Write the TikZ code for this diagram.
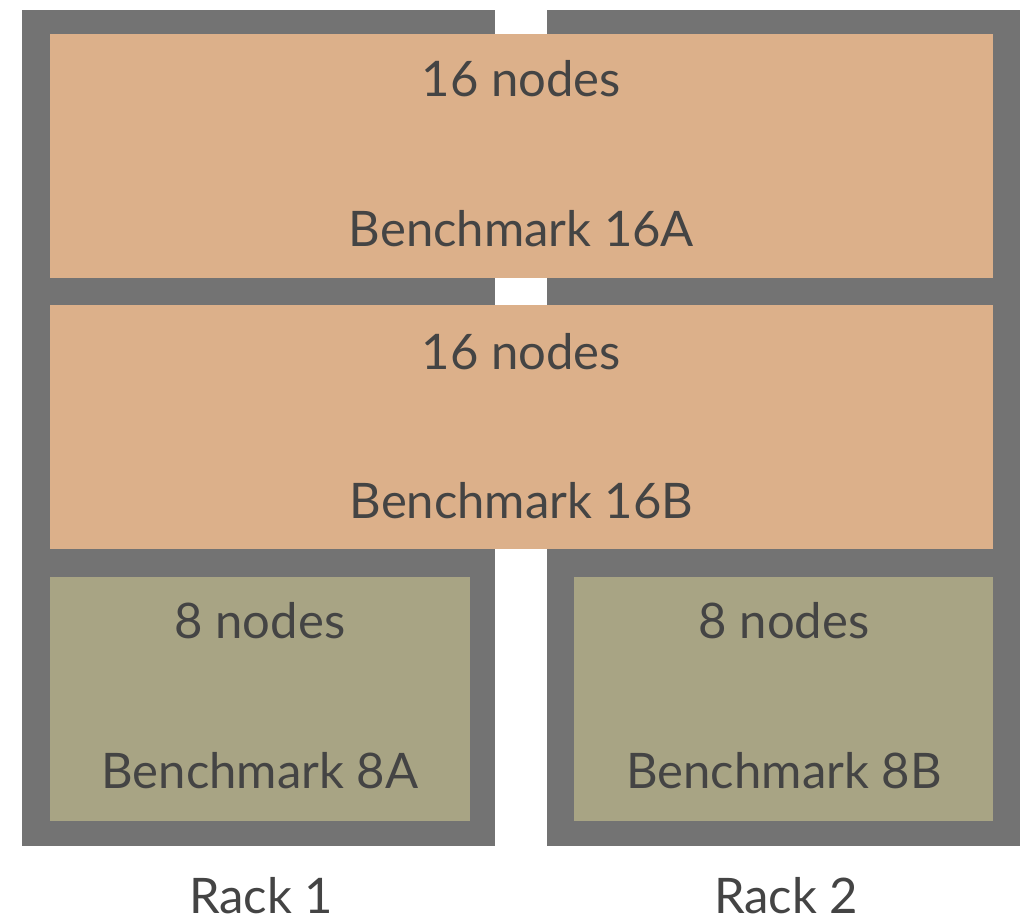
\documentclass[tikz,border=0pt]{standalone}
\usepackage{fontspec}
\setmainfont{Lato}
\definecolor{rackgray}{HTML}{737373}
\definecolor{boxorange}{HTML}{DCB08A}
\definecolor{boxgreen}{HTML}{A8A484}
\definecolor{txt}{HTML}{444444}
\begin{document}
\begin{tikzpicture}[x=1pt,y=-1pt,
  blk/.style={inner sep=0pt,outer sep=0pt,anchor=north west,rectangle},
  lbl/.style={text=txt,font=\fontsize{49}{52}\selectfont,anchor=base,inner sep=0pt}]
\useasboundingbox (0,0) rectangle (1020,917);
% racks
\node[blk,fill=rackgray,minimum width=473pt,minimum height=836pt] (rack1) at (22,10) {};
\node[blk,fill=rackgray,minimum width=473pt,minimum height=836pt] (rack2) at (547,10) {};
% benchmark boxes
\node[blk,fill=boxorange,minimum width=943pt,minimum height=244pt] (b16a) at (50,34) {};
\node[blk,fill=boxorange,minimum width=943pt,minimum height=244pt] (b16b) at (50,305) {};
\node[blk,fill=boxgreen,minimum width=420pt,minimum height=244pt] (b8a) at (50,577) {};
\node[blk,fill=boxgreen,minimum width=419pt,minimum height=244pt] (b8b) at (574,577) {};
% labels
\node[lbl] (t16a) at (521.5,97) {16 nodes};
\node[lbl] (n16a) at (521.5,247) {Benchmark 16A};
\node[lbl] (t16b) at (521.5,369) {16 nodes};
\node[lbl] (n16b) at (521.5,518) {Benchmark 16B};
\node[lbl] (t8a) at (260,638) {8 nodes};
\node[lbl] (n8a) at (260,788) {Benchmark 8A};
\node[lbl] (t8b) at (784,638) {8 nodes};
\node[lbl] (n8b) at (784,788) {Benchmark 8B};
\node[lbl] (r1) at (261,913) {Rack 1};
\node[lbl] (r2) at (786,913) {Rack 2};
\end{tikzpicture}
\end{document}
